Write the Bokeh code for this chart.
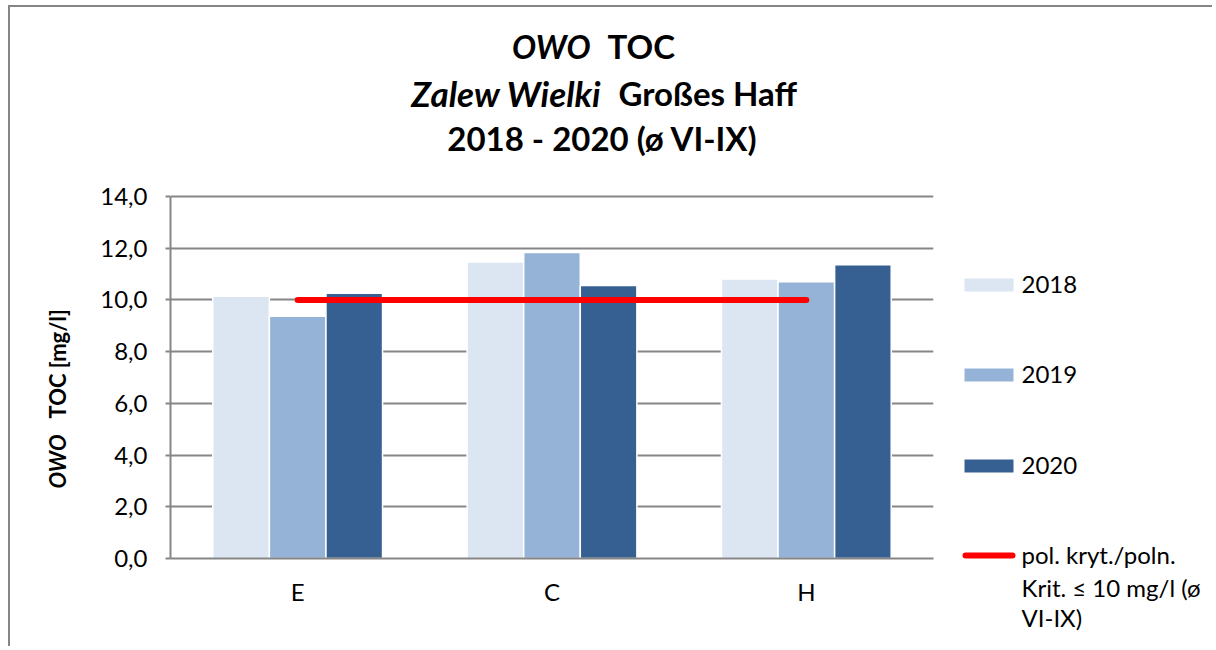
import math
from bokeh.plotting import figure
from bokeh.models import FactorRange, Range1d, FixedTicker, ColumnDataSource
from bokeh.transform import dodge
from bokeh.layouts import column, row
from bokeh.embed import file_html
from bokeh.resources import INLINE
from bokeh.core.properties import value

# ---------------- data ----------------
categories = ["E", "C", "H"]
years = ["2018", "2019", "2020"]
toc_2018 = [10.14, 11.47, 10.81]
toc_2019 = [9.37, 11.83, 10.70]
toc_2020 = [10.26, 10.56, 11.36]
criterion = [10.0, 10.0, 10.0]
y_ticks = [0, 2, 4, 6, 8, 10, 12, 14]
y_tick_labels = ["0,0", "2,0", "4,0", "6,0", "8,0", "10,0", "12,0", "14,0"]
criterion_label = ["pol. kryt./poln.", "Krit. \u2264 10 mg/l (\u00f8", "VI-IX)"]
title_italic = ["OWO", "Zalew Wielki"]
title_bold = ["TOC", "Gro\u00dfes Haff"]
title_line3 = "2018 - 2020 (\u00f8 VI-IX)"
ylabel_italic = "OWO"
ylabel_bold = "TOC [mg/l]"

# ---------------- styles / geometry (page pixels) ----------------
FONT = "Lato"
colors = ["#DCE6F2", "#95B3D7", "#376092"]
RED = "#FF0000"
GRID = "#868686"

LEFT, TOP, RIGHT, BOTTOM = 10, 7, 1214, 648
ROW_TOP = 180
YL_RIGHT = 88
LEG_LEFT = 945
FL, FR, FT, FB = 170, 933, 196, 558   # plot area (0..14)
PAD_TOP = 2                            # extra room so the 14,0 gridline shows
Y_MAX = y_ticks[-1]
Y_END = Y_MAX * (FB - FT + PAD_TOP) / (FB - FT)


def blank(x0, x1, y_range):
    f = figure(width=x1 - x0, height=int(abs(y_range.end - y_range.start)),
               x_range=Range1d(x0, x1), y_range=y_range,
               output_backend="svg", toolbar_location=None, min_border=0,
               outline_line_color=None, frame_align=False)
    f.axis.visible = False
    f.grid.visible = False
    return f


# ---------------- title ----------------
t = blank(LEFT, RIGHT, Range1d(ROW_TOP, TOP))
title_y = [45.5, 92.5]
t.text(x=[590, 601], y=title_y, text=title_italic, text_align="right",
       text_baseline="middle", text_font=value(FONT),
       text_font_size=["32px", "35px"],
       text_font_style="bold italic", text_color="black")
t.text(x=[607, 618], y=title_y, text=title_bold, text_align="left",
       text_baseline="middle", text_font=value(FONT), text_font_size="33px",
       text_font_style="bold", text_color="black")
t.text(x=[602], y=[137.5], text=[title_line3], text_align="center",
       text_baseline="middle", text_font=value(FONT), text_font_size="33px",
       text_font_style="bold", text_color="black")

# ---------------- y axis label (data y = -page y) ----------------
yl = blank(LEFT, YL_RIGHT, Range1d(-BOTTOM, -ROW_TOP))
yl.text(x=[57], y=[-434], text=[ylabel_italic], angle=math.pi / 2,
        text_align="right", text_baseline="middle", text_font=value(FONT),
        text_font_size="22px", text_font_style="bold italic", text_color="black")
yl.text(x=[57], y=[-418], text=[ylabel_bold], angle=math.pi / 2,
        text_align="left", text_baseline="middle", text_font=value(FONT),
        text_font_size="22px", text_font_style="bold", text_color="black")

# ---------------- main plot ----------------
p = figure(x_range=FactorRange(*categories), y_range=Range1d(0, Y_END),
           width=LEG_LEFT - YL_RIGHT, height=BOTTOM - ROW_TOP,
           min_border_left=FL - YL_RIGHT, min_border_right=LEG_LEFT - FR,
           min_border_top=FT - PAD_TOP - ROW_TOP, min_border_bottom=BOTTOM - FB,
           output_backend="svg", toolbar_location=None, outline_line_color=None,
           frame_align=False)

src = ColumnDataSource(dict(cat=categories, y2018=toc_2018, y2019=toc_2019,
                            y2020=toc_2020, crit=criterion))
step = 0.2225
for i, (yr, col) in enumerate(zip(years, colors)):
    p.vbar(x=dodge("cat", (i - 1) * step, range=p.x_range), top="y" + yr,
           width=step, source=src, fill_color=col, line_color="white",
           line_width=1.5)

p.line(x="cat", y="crit", source=src, line_color=RED, line_width=6,
       line_cap="round")

p.xgrid.visible = False
p.ygrid.grid_line_color = GRID
p.ygrid.grid_line_width = 2
p.yaxis.ticker = FixedTicker(ticks=y_ticks)
p.yaxis.bounds = (y_ticks[0], Y_MAX)
p.yaxis.major_label_overrides = {float(k): v for k, v in zip(y_ticks, y_tick_labels)}
p.yaxis.axis_line_color = GRID
p.yaxis.axis_line_width = 2
p.yaxis.major_tick_line_color = GRID
p.yaxis.major_tick_line_width = 2
p.yaxis.major_tick_out = 5
p.yaxis.major_tick_in = 0
p.yaxis.minor_tick_line_color = None
p.yaxis.major_label_standoff = 18
p.xaxis.axis_line_color = GRID
p.xaxis.axis_line_width = 2
p.xaxis.major_tick_line_color = None
p.xaxis.minor_tick_line_color = None
p.xaxis.major_label_standoff = 12
for ax in (p.xaxis, p.yaxis):
    ax.major_label_text_font = FONT
    ax.major_label_text_font_size = "24px"
    ax.major_label_text_color = "black"

# ---------------- legend ----------------
g = blank(LEG_LEFT, RIGHT, Range1d(BOTTOM, ROW_TOP))
leg_y = [284.5, 374.5, 465.5]
g.rect(x=[988.5] * 3, y=leg_y, width=49, height=13, fill_color=colors,
       line_color=None)
g.text(x=[1021] * 3, y=[v - 1 for v in leg_y], text=years, text_baseline="middle",
       text_font=value(FONT), text_font_size="24px", text_color="black")
g.line(x=[965, 1012], y=[555, 555], line_color=RED, line_width=6, line_cap="round")
g.text(x=[1021] * 3, y=[554, 587, 617], text=criterion_label, text_baseline="middle",
       text_font=value(FONT), text_font_size="24px", text_color="black")

layout = column(t, row(yl, p, g, spacing=0), spacing=0, margin=(TOP, 0, 0, LEFT),
                styles={"box-shadow": "-2px -2px 0 0 #868686"})
open("out.html", "w").write(file_html(layout, INLINE))
